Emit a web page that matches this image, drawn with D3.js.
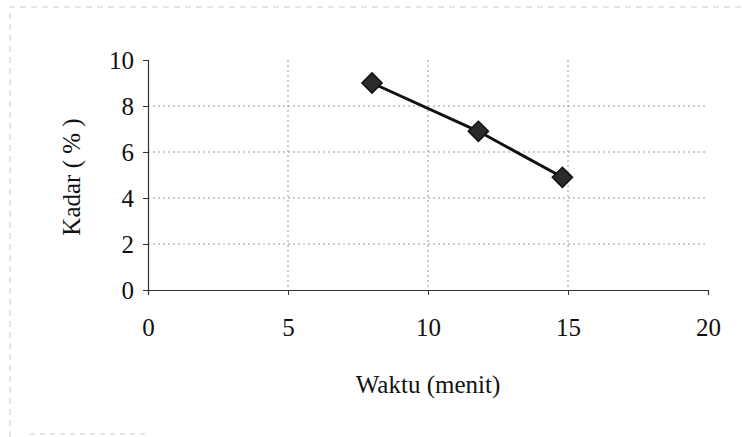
<!DOCTYPE html>
<html lang="en">
<head>
<meta charset="UTF-8">
<title>Kadar vs Waktu</title>
<script src="https://d3js.org/d3.v7.min.js"></script>
<style>
    body { margin: 0; background: #fff; }
    svg text { font-family: "Liberation Serif"; }
    .grid line { stroke: #999; stroke-width: 1; stroke-dasharray: 2, 3; }
</style>
</head>
<body>
<script>
    // data
    const waktu = [8, 11.8, 14.8]
    const kadar = [9, 6.9, 4.9]
    const xTicks = [0, 5, 10, 15, 20]
    const yTicks = [0, 2, 4, 6, 8, 10]

    const W = 742, H = 437
    const margin = { top: 60, right: 34, bottom: 147, left: 148 }
    const width = W - margin.left - margin.right
    const height = H - margin.top - margin.bottom
    const fs = 25

    const svg = d3.select("body").append("svg")
        .attr("width", W)
        .attr("height", H)

    // faint scanned chart border
    svg.append("path")
        .attr("d", "M10,437 L10,7 L742,7")
        .attr("fill", "none")
        .attr("stroke", "#ccc")
        .attr("stroke-dasharray", "6,5")
    svg.append("line")
        .attr("x1", 30).attr("x2", 150).attr("y1", 434).attr("y2", 434)
        .attr("stroke", "#ccc")
        .attr("stroke-dasharray", "5,5")

    const g = svg.append("g")
        .attr("transform", "translate(" + margin.left + "," + margin.top + ")")

    const x = d3.scaleLinear().domain([0, 20]).range([0, width])
    const y = d3.scaleLinear().domain([0, 10]).range([height, 0])

    // gridlines
    g.append("g").attr("class", "grid")
        .selectAll("line.h")
        .data(yTicks.filter(d => d > 0 && d < 10))
        .join("line")
        .attr("x1", 0).attr("x2", width)
        .attr("y1", d => y(d)).attr("y2", d => y(d))
    g.append("g").attr("class", "grid")
        .selectAll("line.v")
        .data(xTicks.filter(d => d > 0 && d < 20))
        .join("line")
        .attr("y1", 0).attr("y2", height)
        .attr("x1", d => x(d)).attr("x2", d => x(d))

    const xAxis = d3.axisBottom(x).tickValues(xTicks).tickSize(5).tickPadding(23)
    const yAxis = d3.axisLeft(y).tickValues(yTicks).tickSize(5).tickPadding(9)

    const gx = g.append("g")
        .attr("transform", "translate(0," + height + ")")
        .call(xAxis)
    const gy = g.append("g").call(yAxis)

    ;[gx, gy].forEach(a => {
        a.attr("font-family", "Liberation Serif").attr("font-size", fs)
        a.select(".domain").attr("stroke", "#333").attr("stroke-width", 1.2)
        a.selectAll(".tick line").attr("stroke", "#333")
        a.selectAll(".tick text")
            .attr("font-family", "Liberation Serif")
            .attr("font-size", fs)
            .attr("fill", "#111")
    })

    const pts = waktu.map((d, i) => ({ x: d, y: kadar[i] }))

    g.append("path")
        .datum(pts)
        .attr("fill", "none")
        .attr("stroke", "#111")
        .attr("stroke-width", 3)
        .attr("d", d3.line().x(d => x(d.x)).y(d => y(d.y)))

    g.selectAll(".pt")
        .data(pts)
        .join("path")
        .attr("class", "pt")
        .attr("transform", d => "translate(" + x(d.x) + "," + y(d.y) + ")")
        .attr("d", d3.symbol().type(d3.symbolDiamond2).size(260))
        .attr("fill", "#2a2a2a")
        .attr("stroke", "#111")
        .attr("stroke-width", 1.5)

    svg.append("text")
        .attr("x", margin.left + width / 2)
        .attr("y", 393)
        .attr("text-anchor", "middle")
        .attr("font-family", "Liberation Serif")
        .attr("font-size", fs)
        .attr("fill", "#111")
        .text("Waktu (menit)")

    svg.append("text")
        .attr("transform", "translate(80," + (margin.top + height / 2 + 2) + ") rotate(-90)")
        .attr("text-anchor", "middle")
        .attr("font-family", "Liberation Serif")
        .attr("font-size", fs)
        .attr("fill", "#111")
        .text("Kadar ( % )")
</script>
</body>
</html>
